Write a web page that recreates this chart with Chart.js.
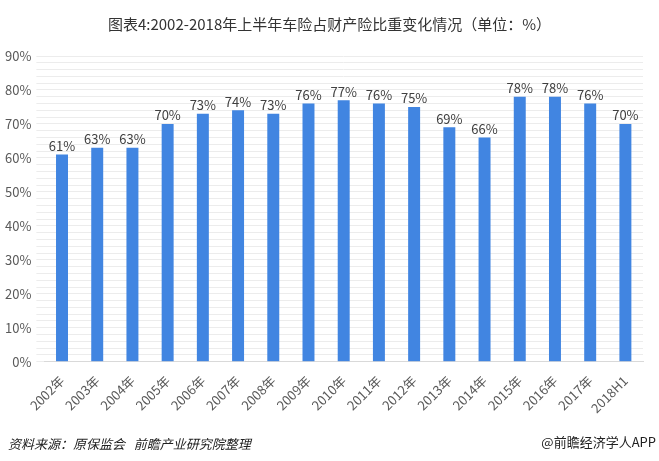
<!DOCTYPE html>
<html>
<head>
<meta charset="utf-8">
<script src="https://cdn.jsdelivr.net/npm/chart.js@4"></script>
<style>
    body { margin: 0; background: #fff; font-family: "Noto Sans CJK SC", "Noto Sans", sans-serif; }
    #wrap { position: relative; width: 659px; height: 461px; overflow: hidden; }
    #title { position: absolute; left: 0; top: 13px; width: 659px; text-align: center; font-size: 15px; color: #333; }
    #source { position: absolute; left: 8px; top: 434px; font-size: 13px; font-style: italic; color: #222; }
    #brand { position: absolute; right: 3px; top: 432px; font-size: 13px; color: #222; }
    canvas { position: absolute; left: 0; top: 0; }
</style>
</head>
<body>
<div id="wrap">
    <canvas id="chart" width="659" height="461"></canvas>
    <div id="title">图表4:2002-2018年上半年车险占财产险比重变化情况（单位：%）</div>
    <div id="source">资料来源：原保监会&nbsp;&nbsp;&nbsp;前瞻产业研究院整理</div>
    <div id="brand">@前瞻经济学人APP</div>
</div>
<script>
// données
const categories = ["2002年", "2003年", "2004年", "2005年", "2006年", "2007年", "2008年", "2009年", "2010年",
    "2011年", "2012年", "2013年", "2014年", "2015年", "2016年", "2017年", "2018H1"];
const shares = [61, 63, 63, 70, 73, 74, 73, 76, 77, 76, 75, 69, 66, 78, 78, 76, 70];
const yMax = 90;

// étiquettes au-dessus des barres
const barLabels = {
    id: "barLabels",
    afterDatasetsDraw(chart) {
        const ctx = chart.ctx;
        const meta = chart.getDatasetMeta(0);
        ctx.save();
        ctx.font = '13px "Noto Sans CJK SC", sans-serif';
        ctx.fillStyle = "#404040";
        ctx.textAlign = "center";
        ctx.textBaseline = "bottom";
        meta.data.forEach((bar, i) => {
            ctx.fillText(shares[i] + "%", bar.x, bar.y - 2);
        });
        ctx.restore();
    }
};

new Chart(document.getElementById("chart"), {
    type: "bar",
    data: {
        labels: categories,
        datasets: [{
            data: shares,
            backgroundColor: "#4185e1",
            barPercentage: 0.34,
            categoryPercentage: 1
        }]
    },
    options: {
        responsive: false,
        animation: false,
        layout: { padding: { top: 56, right: 16, bottom: 42, left: 0 } },
        plugins: { legend: { display: false }, tooltip: { enabled: false } },
        scales: {
            x: {
                grid: { display: false },
                border: { color: "#d9d9d9" },
                ticks: {
                    minRotation: 45, maxRotation: 45,
                    color: "#595959",
                    font: { size: 13, family: '"Noto Sans CJK SC", sans-serif' }
                }
            },
            y: {
                min: 0, max: yMax,
                border: { display: false },
                grid: { color: "#ececec" },
                ticks: {
                    stepSize: 2,
                    autoSkip: false,
                    padding: 5,
                    color: "#595959",
                    font: { size: 13, family: '"Noto Sans CJK SC", sans-serif' },
                    callback: v => (v % 10 === 0 ? v + "%" : "")
                }
            }
        }
    },
    plugins: [barLabels]
});
</script>
</body>
</html>
